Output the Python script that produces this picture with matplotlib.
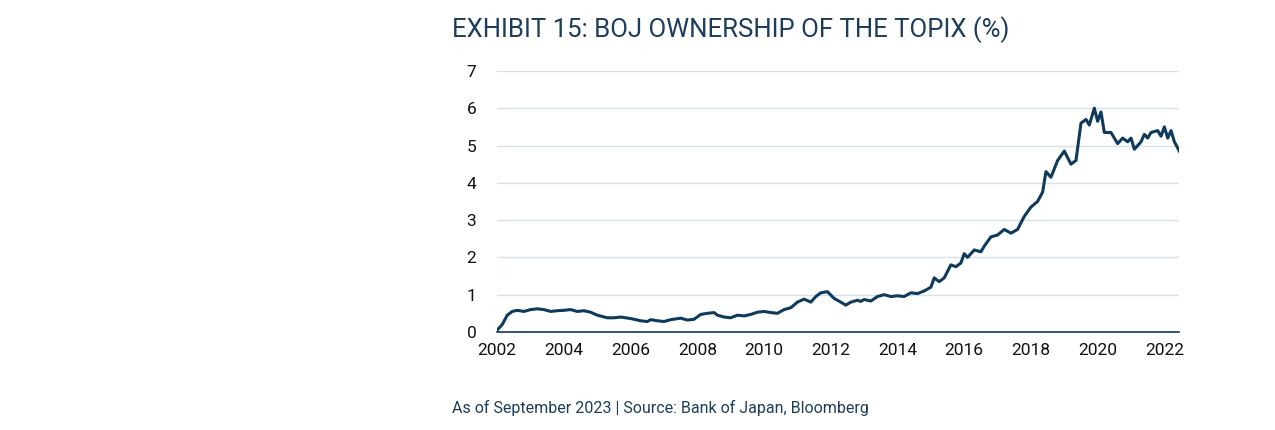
import matplotlib
matplotlib.use("Agg")
import matplotlib.pyplot as plt

years = [2002.0,2002.15,2002.3,2002.45,2002.6,2002.8,2003.0,2003.2,2003.4,2003.6,2003.8,2004.0,2004.2,2004.4,2004.6,2004.8,
2005.0,2005.3,2005.5,2005.7,2006.0,2006.3,2006.5,2006.6,2006.8,2007.0,2007.2,2007.5,2007.7,2007.9,2008.1,2008.3,2008.5,2008.6,2008.8,
2009.0,2009.2,2009.4,2009.6,2009.8,2010.0,2010.2,2010.4,2010.6,2010.8,2011.0,2011.2,2011.4,2011.55,2011.7,2011.9,2012.1,2012.3,2012.45,
2012.6,2012.8,2012.9,2013.0,2013.2,2013.4,2013.6,2013.8,2014.0,2014.2,2014.4,2014.6,2014.8,2015.0,2015.1,2015.25,2015.4,2015.6,2015.75,
2015.9,2016.0,2016.1,2016.3,2016.5,2016.6,2016.8,2017.0,2017.2,2017.4,2017.6,2017.8,2018.0,2018.2,2018.35,2018.45,2018.6,2018.8,2019.0,
2019.2,2019.35,2019.5,2019.65,2019.75,2019.9,2020.0,2020.1,2020.2,2020.4,2020.6,2020.75,2020.9,2021.0,2021.1,2021.3,2021.4,2021.5,2021.6,
2021.8,2021.9,2022.0,2022.1,2022.2,2022.3,2022.45]
ownership = [0.05,0.2,0.45,0.55,0.58,0.55,0.6,0.62,0.6,0.55,0.57,0.58,0.6,0.55,0.57,0.53,
0.45,0.38,0.38,0.4,0.36,0.3,0.28,0.33,0.3,0.28,0.33,0.37,0.32,0.34,0.47,0.5,0.52,0.45,0.4,
0.38,0.45,0.43,0.47,0.53,0.55,0.52,0.5,0.6,0.65,0.8,0.88,0.8,0.95,1.05,1.08,0.9,0.8,0.72,
0.8,0.85,0.82,0.87,0.83,0.95,1.0,0.95,0.97,0.95,1.05,1.03,1.1,1.2,1.45,1.35,1.45,1.8,1.75,
1.85,2.1,2.0,2.2,2.15,2.3,2.55,2.6,2.75,2.65,2.75,3.1,3.35,3.5,3.75,4.3,4.15,4.6,4.85,
4.5,4.6,5.6,5.7,5.55,6.0,5.65,5.9,5.35,5.35,5.05,5.2,5.1,5.2,4.9,5.1,5.3,5.2,5.35,
5.4,5.25,5.5,5.2,5.4,5.1,4.85]
xticks = list(range(2002, 2023, 2))
yticks = list(range(0, 8))

navy = "#0e3a5c"
plt.rcParams['font.family'] = ['Roboto', 'DejaVu Sans']
fig = plt.figure(figsize=(12.75, 4.3), dpi=100)
ax = fig.add_axes([0.39, 0.228, 0.535, 0.607])
ax.plot(years, ownership, color=navy, lw=2.2)
ax.set_xlim(2002, 2022.45)
ax.set_ylim(0, 7)
ax.set_xticks(xticks)
ax.set_yticks(yticks)
ax.grid(axis='y', color="#d5e0e8", lw=1)
ax.set_axisbelow(True)
for s in ['top', 'right', 'left']:
    ax.spines[s].set_visible(False)
ax.spines['bottom'].set_color(navy)
ax.spines['bottom'].set_linewidth(1.2)
ax.tick_params(axis='both', length=0, labelsize=12.5, colors='#111111', pad=8)
ax.tick_params(axis='y', pad=22)
for lbl in ax.get_yticklabels():
    lbl.set_horizontalalignment('left')
fig.text(452/1275, 1-30/430, "EXHIBIT 15: BOJ OWNERSHIP OF THE TOPIX (%)", fontsize=18.5,
         color="#1d3d5c", va='center', ha='left', fontstretch='condensed')
fig.text(452/1275, 1-408/430, "As of September 2023 | Source: Bank of Japan, Bloomberg", fontsize=11.5,
         color="#1d3d5c", va='center', ha='left')
fig.savefig("out.png", dpi=100)
